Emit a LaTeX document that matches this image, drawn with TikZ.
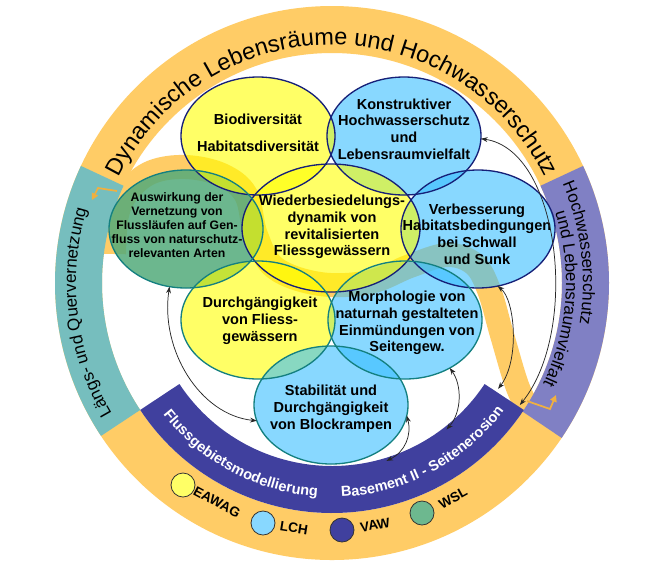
\documentclass[tikz,border=0pt]{standalone}
\usepackage{fontspec}
\setmainfont{Liberation Sans}
\usetikzlibrary{shapes.geometric,decorations.text,arrows.meta}

\definecolor{ringorange}{RGB}{255,204,102}
\definecolor{ringteal}{RGB}{118,190,190}
\definecolor{ringlav}{RGB}{128,128,196}
\definecolor{bandpurple}{RGB}{64,64,158}
\definecolor{bubyellow}{RGB}{255,255,0}
\definecolor{bubblue}{RGB}{57,190,255}
\definecolor{bubgreen}{RGB}{83,171,123}
\definecolor{rimnavy}{RGB}{22,32,120}
\definecolor{rimteal}{RGB}{20,128,128}
\definecolor{flowarrow}{RGB}{240,176,64}
\definecolor{legyellow}{RGB}{255,255,102}
\definecolor{legblue}{RGB}{136,216,255}
\definecolor{leggreen}{RGB}{109,184,143}

\newcommand\ringfont{\fontsize{17.6}{20}\selectfont}
\newcommand\sidefont{\fontsize{12.75}{15}\selectfont}
\newcommand\bandfont{\fontsize{10.9}{13}\selectfont\bfseries}

\tikzset{
  bubble/.style={ellipse, inner sep=0pt, outer sep=0pt, minimum width=115.5pt, minimum height=88.5pt},
  bigbubble/.style={bubble, minimum width=133.5pt, minimum height=96pt},
  ylw/.style={fill=bubyellow, fill opacity=0.6},
  blu/.style={fill=bubblue, fill opacity=0.6},
  grn/.style={fill=bubgreen, fill opacity=0.85},
  navyrim/.style={draw=rimnavy, line width=1pt},
  tealrim/.style={draw=rimteal, line width=1pt},
  bubtext/.style={align=center, inner sep=0pt, font=\fontsize{10.9}{12.6}\selectfont\bfseries},
  smalltext/.style={align=center, inner sep=0pt, font=\fontsize{9.2}{10.5}\selectfont\bfseries},
  link/.style={{Stealth[length=5pt,width=3.6pt]}-{Stealth[length=5pt,width=3.6pt]}, line width=0.55pt, black!85},
  swoosh/.style={draw=ringorange, line width=18pt, line cap=butt, line join=round},
  elbow/.style={draw=flowarrow, line width=1.3pt, -{Triangle[length=5pt,width=5pt]}},
  legdot/.style={circle, draw=black!80, line width=0.6pt, minimum size=18pt, inner sep=0pt},
  leglabel/.style={inner sep=0pt, font=\fontsize{10.2}{12}\selectfont\bfseries},
}

\begin{document}
\begin{tikzpicture}[x=0.75pt,y=0.75pt,yscale=-1,xscale=1]
	\fill[white] (0,0) rectangle (660,562);
	\useasboundingbox (0,0) rectangle (660,562);
	\coordinate (c) at (332,283);

	% River swoosh
	\draw[swoosh] plot[smooth,tension=0.6] coordinates {(114,254) (117,215) (129,190) (152,172) (186,167) (222,175) (246,195) (256,235) (275,268) (320,284) (370,282) (410,266) (447,255) (474,264) (489,290) (502,335) (518,388) (532,414)};

	% Ring and bands
	\begin{scope}[shift={(c)},yscale=-1]
		\fill[ringorange,even odd rule] (0,0) circle[radius=277] (0,0) circle[radius=230];
		\fill[ringteal] (155:277) arc[start angle=155,end angle=213.5,radius=277] -- (213.5:230) arc[start angle=213.5,end angle=155,radius=230] -- cycle;
		\fill[ringlav] (-34:277) arc[start angle=-34,end angle=25,radius=277] -- (25:230) arc[start angle=25,end angle=-34,radius=230] -- cycle;
		\fill[bandpurple] (213.5:230) arc[start angle=213.5,end angle=326.5,radius=230] -- (326.5:183) arc[start angle=326.5,end angle=213.5,radius=183] -- cycle;
		\coordinate (bandNE) at (-33:224);
		\coordinate (bandR) at (-32.5:197);
		\coordinate (bandM) at (-52:186);
		\coordinate (bandS) at (-73:186);
	\end{scope}

	% Bubbles (fills)
	\node[bubble,blu] (konst) at (404,136) {};
	\node[bubble,blu] (verb) at (478,229) {};
	\node[bubble,blu] (morph) at (405,320) {};
	\node[bubble,grn] (ausw) at (186,229) {};
	\node[bubble,ylw] (bio) at (258,136) {};
	\node[bigbubble,ylw] (centre) at (331,228) {};
	\node[bubble,ylw] (durch) at (258,320) {};
	\node[bubble,blu] (stab) at (331,405) {};

	% Bubbles (rims)
	\foreach \n in {bio,konst,verb}
		\draw[navyrim] (\n) ellipse[x radius=77,y radius=59];
	\draw[navyrim] (centre) ellipse[x radius=89,y radius=64];
	\foreach \n in {ausw,durch,morph,stab}
		\draw[tealrim] (\n) ellipse[x radius=77,y radius=59];

	% Text Nodes
	\node[bubtext] (bio-t) at (258,133) {Biodiversität\\[7.5pt]Habitatsdiversität};
	\node[bubtext] (konst-t) at (404,129) {Konstruktiver\\Hochwasserschutz\\und\\Lebensraumvielfalt};
	\node[bubtext] (centre-t) at (332,227) {Wiederbesiedelungs-\\dynamik von\\revitalisierten\\Fliessgewässern};
	\node[smalltext] (ausw-t) at (177,225) {Auswirkung der\\Vernetzung von\\Flussläufen auf Gen-\\fluss von naturschutz-\\relevanten Arten};
	\node[bubtext] (verb-t) at (477,234) {Verbesserung\\Habitatsbedingungen\\bei Schwall\\und Sunk};
	\node[bubtext] (durch-t) at (260,321) {Durchgängigkeit\\von Fliess-\\gewässern};
	\node[bubtext] (morph-t) at (407,323) {Morphologie von\\naturnah gestalteten\\Einmündungen von\\Seitengew.};
	\node[bubtext] (stab-t) at (331,409) {Stabilität und\\Durchgängigkeit\\von Blockrampen};

	% Connectors
	\draw[link] (konst.-2) .. controls (560,150) and (580,330) .. (bandNE);
	\draw[link] (verb.-71) .. controls (515,300) and (520,360) .. (bandR);
	\draw[link] (morph.-47) .. controls (462,385) and (462,412) .. (bandM);
	\draw[link] (stab.-8) .. controls (412,435) and (405,452) .. (bandS);
	\draw[link] (ausw.-106) .. controls (160,350) and (200,415) .. (stab.192);

	% Flow arrows
	\draw[elbow] (117,191) -- (98,188) -- (92,200);
	\draw[elbow] (527,401) -- (550,409) -- (556,395);

	% Ring texts
	\begin{scope}[shift={(c)},yscale=-1]
		\path[decorate,decoration={text along path,text align=center,
			text={|\ringfont|Dynamische Lebensräume und Hochwasserschutz}}]
			(162:238) arc[start angle=162,end angle=18,radius=238];
		\path[decorate,decoration={text along path,text align=center,
			text={|\sidefont|Längs- und Quervernetzung}}]
			(218:256) arc[start angle=218,end angle=156,radius=256];
		\path[decorate,decoration={text along path,text align=center,
			text={|\sidefont|Hochwasserschutz}}]
			(30:251) arc[start angle=30,end angle=-16,radius=251];
		\path[decorate,decoration={text along path,text align=center,
			text={|\sidefont|und Lebensraumvielfalt}}]
			(24:234) arc[start angle=24,end angle=-32,radius=234];
		\path[decorate,decoration={text along path,text align=center,text color=white,
			text={|\bandfont|Flussgebietsmodellierung}}]
			(214:214) arc[start angle=214,end angle=270,radius=214];
		\path[decorate,decoration={text along path,text align=center,text color=white,
			text={|\bandfont|Basement II - Seitenerosion}}]
			(270:214) arc[start angle=270,end angle=326,radius=214];
	\end{scope}

	% Legend
	\node[legdot,fill=legyellow] (eawag-dot) at (183,485) {};
	\node[legdot,fill=legblue] (lch-dot) at (263,523) {};
	\node[legdot,fill=bandpurple] (vaw-dot) at (342,530) {};
	\node[legdot,fill=leggreen] (wsl-dot) at (422,513) {};
	\node[leglabel,rotate=-28] (eawag) at (217,502) {EAWAG};
	\node[leglabel,rotate=-9] (lch) at (294,528) {LCH};
	\node[leglabel,rotate=10] (vaw) at (375,525) {VAW};
	\node[leglabel,rotate=29] (wsl) at (453,498) {WSL};
\end{tikzpicture}
\end{document}
